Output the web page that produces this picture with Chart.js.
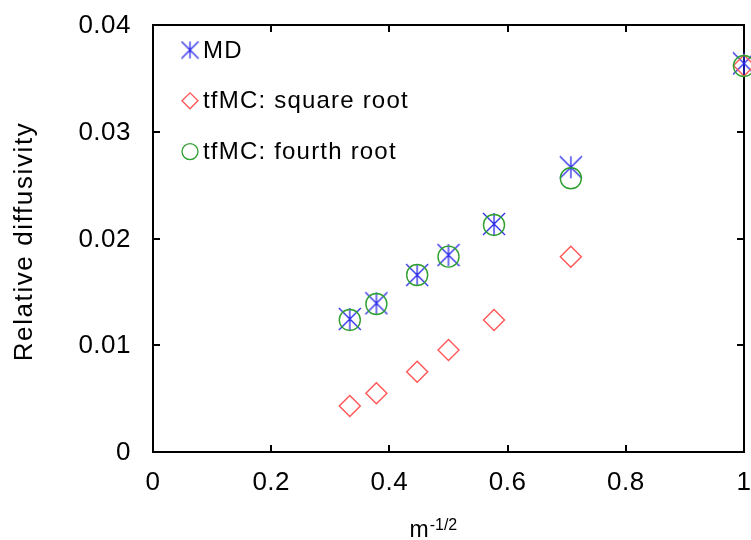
<!DOCTYPE html>
<html lang="en">
<head>
    <meta charset="UTF-8">
    <title>relative diffusivity</title>
    <style type="text/css">
        body{ margin: 0; background: #fff; }
        .chartbox{ width: 751px; height: 540px; }
    </style>
    <script src="https://cdn.jsdelivr.net/npm/chart.js@4.4.0/dist/chart.umd.min.js"></script>
</head>
<body>
    <div class="chartbox">
        <canvas id="myChart" width="751" height="540"></canvas>
    </div>
    <script>
    // data (x = m^-1/2)
    const xValues = [0.333, 0.378, 0.447, 0.5, 0.577, 0.707, 1];
    const mdValues = [0.01246, 0.01393, 0.01658, 0.01845, 0.02136, 0.02667, 0.0364];
    const sqrtValues = [0.00431, 0.0055, 0.00752, 0.00955, 0.01237, 0.0183, 0.0362];
    const fourthValues = [0.01237, 0.01386, 0.01658, 0.0183, 0.02127, 0.02564, 0.03616];
    const seriesLabels = ['MD', 'tfMC: square root', 'tfMC: fourth root'];
    const xTicks = [0, 0.2, 0.4, 0.6, 0.8, 1];
    const yTicks = [0, 0.01, 0.02, 0.03, 0.04];
    const xTickLabels = ['0', '0.2', '0.4', '0.6', '0.8', '1'];
    const yTickLabels = ['0', '0.01', '0.02', '0.03', '0.04'];

    const blue = 'rgb(40,40,235)';
    const red = 'rgb(255,85,85)';
    const green = 'rgb(45,160,45)';
    const FONT = '"Liberation Sans", Arial, sans-serif';

    // asterisk marker: vertical bar + two diagonals
    function makeStar(size){
        const c = document.createElement('canvas');
        c.width = size; c.height = size;
        const g = c.getContext('2d');
        const m = size / 2, r = m - 1;
        g.strokeStyle = blue;
        g.lineWidth = 1.3;
        g.beginPath();
        g.moveTo(m, m - r); g.lineTo(m, m + r);
        g.moveTo(m - r, m - r); g.lineTo(m + r, m + r);
        g.moveTo(m + r, m - r); g.lineTo(m - r, m + r);
        g.stroke();
        return c;
    }
    const starBig = makeStar(24);
    const starSmall = makeStar(19);

    const toPoints = ys => xValues.map((x, i) => ({x: x, y: ys[i]}));

    const data = {
        datasets: [{
            label: seriesLabels[0],
            data: toPoints(mdValues),
            pointStyle: starBig,
            pointRadius: 11,
            borderColor: blue,
            backgroundColor: 'rgba(0,0,0,0)',
            order: 3
        }, {
            label: seriesLabels[1],
            data: toPoints(sqrtValues),
            pointStyle: 'rectRot',
            pointRadius: 10.5,
            pointBorderWidth: 1.4,
            borderColor: red,
            backgroundColor: 'rgba(0,0,0,0)',
            order: 2
        }, {
            label: seriesLabels[2],
            data: toPoints(fourthValues),
            pointStyle: 'circle',
            pointRadius: 10.5,
            pointBorderWidth: 1.4,
            borderColor: green,
            backgroundColor: 'rgba(0,0,0,0)',
            order: 1
        }]
    };

    // box, inward ticks, tick labels, legend and axis titles
    const frame = {
        id: 'frame',
        beforeDatasetsDraw(chart){
            const {ctx, chartArea: a, scales} = chart;
            ctx.save();
            ctx.strokeStyle = '#000';
            ctx.lineWidth = 2;
            ctx.strokeRect(a.left, a.top, a.right - a.left, a.bottom - a.top);
            ctx.beginPath();
            xTicks.forEach(v => {
                const px = Math.round(scales.x.getPixelForValue(v));
                ctx.moveTo(px, a.bottom); ctx.lineTo(px, a.bottom - 7);
                ctx.moveTo(px, a.top); ctx.lineTo(px, a.top + 7);
            });
            yTicks.forEach(v => {
                const py = Math.round(scales.y.getPixelForValue(v));
                ctx.moveTo(a.left, py); ctx.lineTo(a.left + 7, py);
                ctx.moveTo(a.right, py); ctx.lineTo(a.right - 7, py);
            });
            ctx.stroke();

            // tick labels
            ctx.fillStyle = '#000';
            ctx.font = '26px ' + FONT;
            ctx.letterSpacing = '0.5px';
            ctx.textBaseline = 'middle';
            ctx.textAlign = 'center';
            xTicks.forEach((v, i) => {
                ctx.fillText(xTickLabels[i], scales.x.getPixelForValue(v), a.bottom + 31);
            });
            ctx.textAlign = 'right';
            yTicks.forEach((v, i) => {
                ctx.fillText(yTickLabels[i], a.left - 22, scales.y.getPixelForValue(v) + 1);
            });
            ctx.restore();
        },
        afterDraw(chart){
            const {ctx, chartArea: a} = chart;
            ctx.save();
            ctx.fillStyle = '#000';
            ctx.textBaseline = 'middle';

            // legend
            const lx = a.left + 37, ly = a.top + 25, step = 50.8;
            ctx.font = '24px ' + FONT;
            ctx.letterSpacing = '1.2px';
            chart.data.datasets.forEach((ds, i) => {
                const cy = ly + i * step;
                ctx.lineWidth = 1.3;
                ctx.strokeStyle = ds.borderColor;
                if (i === 0) {
                    ctx.drawImage(starSmall, lx - starSmall.width / 2, cy - starSmall.height / 2);
                } else if (i === 1) {
                    ctx.beginPath();
                    ctx.moveTo(lx - 8, cy); ctx.lineTo(lx, cy - 8);
                    ctx.lineTo(lx + 8, cy); ctx.lineTo(lx, cy + 8);
                    ctx.closePath(); ctx.stroke();
                } else {
                    ctx.beginPath();
                    ctx.arc(lx, cy, 8, 0, Math.PI * 2);
                    ctx.stroke();
                }
                ctx.textAlign = 'left';
                ctx.fillText(ds.label, lx + 13, cy + 1);
            });

            // y title
            ctx.letterSpacing = '1.6px';
            ctx.font = '26px ' + FONT;
            ctx.translate(25, (a.top + a.bottom) / 2 + 3);
            ctx.rotate(-Math.PI / 2);
            ctx.textAlign = 'center';
            ctx.fillText('Relative diffusivity', 0, 0);
            ctx.setTransform(1, 0, 0, 1, 0, 0);

            // x title: m^-1/2
            ctx.letterSpacing = '0px';
            ctx.textBaseline = 'alphabetic';
            ctx.textAlign = 'left';
            const tx = (a.left + a.right) / 2 - 39;
            ctx.font = '23px ' + FONT;
            ctx.fillText('m', tx, 537);
            const mw = ctx.measureText('m').width;
            ctx.font = '16px ' + FONT;
            ctx.fillText('-1/2', tx + mw + 1, 530);
            ctx.restore();
        }
    };

    const config = {
        type: 'scatter',
        data,
        options: {
            responsive: false,
            animation: false,
            clip: false,
            layout: { autoPadding: false, padding: { top: 25, right: 7, left: 0, bottom: 0 } },
            plugins: {
                legend: { display: false },
                tooltip: { enabled: false }
            },
            scales: {
                x: {
                    type: 'linear',
                    min: 0, max: 1,
                    afterBuildTicks: s => { s.ticks = xTicks.map(v => ({value: v})); },
                    afterFit: s => { s.height = 88; },
                    grid: { display: false, drawTicks: false },
                    border: { display: false },
                    ticks: { display: false }
                },
                y: {
                    type: 'linear',
                    min: 0, max: 0.04,
                    afterBuildTicks: s => { s.ticks = yTicks.map(v => ({value: v})); },
                    afterFit: s => { s.width = 153; },
                    grid: { display: false, drawTicks: false },
                    border: { display: false },
                    ticks: { display: false }
                }
            }
        },
        plugins: [frame]
    };

    const myChart = new Chart(document.getElementById('myChart'), config);
    </script>
</body>
</html>
